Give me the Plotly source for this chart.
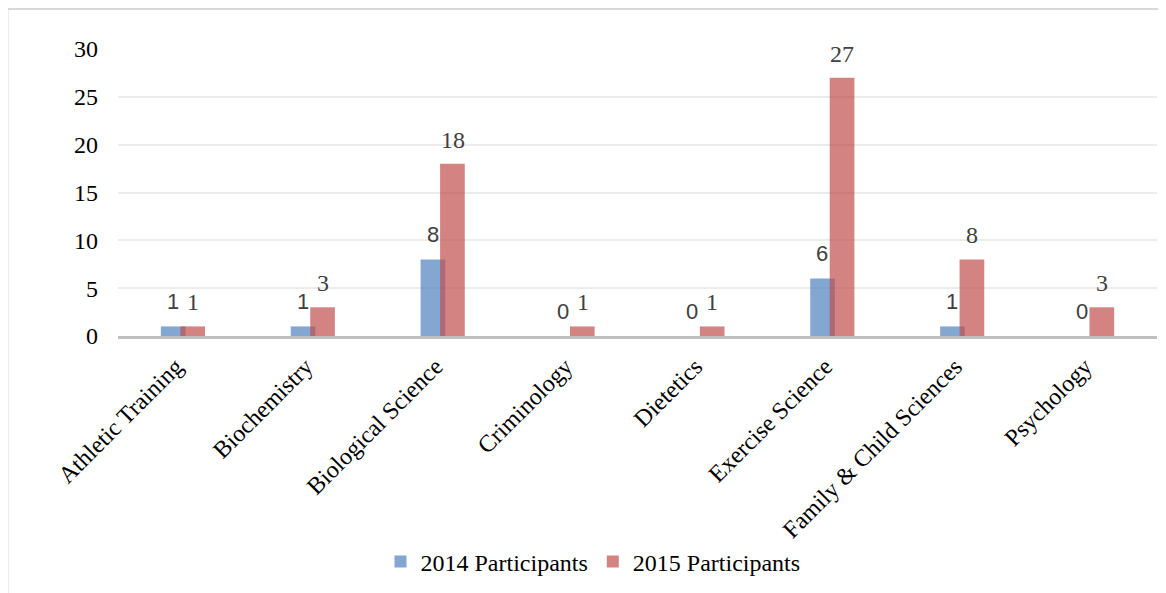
import plotly.graph_objects as go

categories = ["Athletic Training", "Biochemistry", "Biological Science", "Criminology",
              "Dietetics", "Exercise Science", "Family & Child Sciences", "Psychology"]
participants_2014 = [1, 1, 8, 0, 0, 6, 1, 0]
participants_2015 = [1, 3, 18, 1, 1, 27, 8, 3]
y_ticks = [0, 5, 10, 15, 20, 25, 30]

# page body has an 8px margin; figure sized so the plot area lands where the reference has it
OFF = 8
W, H = 1166 - OFF, 593 - OFF
L, R, T, B = 118 - OFF, 17 - OFF, 49 - OFF, 257
pw, ph = W - L - R, H - T - B

def px_x(p):  # screen pixel -> paper x
    return (p - 118) / pw

def px_y(p):  # screen pixel -> paper y
    return (336 - p) / ph

blue = "rgba(79,129,189,0.7)"
red = "rgba(192,80,77,0.7)"
serif = "Liberation Serif"
sans = "Liberation Sans"

fig = go.Figure()
fig.add_trace(go.Bar(x=categories, y=participants_2014, name="2014 Participants",
                     marker=dict(color=blue, line=dict(width=0)),
                     offset=-0.17, width=0.19))
fig.add_trace(go.Bar(x=categories, y=participants_2015, name="2015 Participants",
                     marker=dict(color=red, line=dict(width=0)),
                     offset=-0.02, width=0.19))

annotations = []
for c, v in zip(categories, participants_2014):
    annotations.append(dict(x=c, y=v, xref="x", yref="y", text=str(v), showarrow=False,
                            xshift=-10, yshift=25, yanchor="middle", xanchor="center",
                            font=dict(family=sans, size=22, color="#404040")))
for c, v in zip(categories, participants_2015):
    annotations.append(dict(x=c, y=v, xref="x", yref="y", text=str(v), showarrow=False,
                            xshift=10, yshift=24, yanchor="middle", xanchor="center",
                            font=dict(family=serif, size=24, color="#404040")))

shapes = [
    dict(type="line", xref="paper", yref="paper", x0=px_x(7.5), x1=px_x(7.5),
         y0=px_y(600), y1=px_y(9), line=dict(color="#d9d9d9", width=2)),
    dict(type="line", xref="paper", yref="paper", x0=px_x(7.5), x1=px_x(1170),
         y0=px_y(9), y1=px_y(9), line=dict(color="#d9d9d9", width=2)),
]

fig.update_layout(
    width=W, height=H,
    margin=dict(l=L, r=R, t=T, b=B, autoexpand=False),
    paper_bgcolor="white", plot_bgcolor="white",
    barmode="overlay",
    showlegend=True,
    legend=dict(orientation="h", x=px_x(593), xanchor="center", y=px_y(562), yanchor="middle",
                font=dict(family=serif, size=24, color="black"),
                itemwidth=30, tracegroupgap=0),
    annotations=annotations,
    shapes=shapes,
    xaxis=dict(type="category", tickangle=-45, showline=True, linecolor="#bfbfbf",
               linewidth=3, ticks="", showgrid=False, ticklabelstandoff=4,
               ticklabelshift=-7,
               tickfont=dict(family=serif, size=24, color="black")),
    yaxis=dict(range=[0, 30], tickvals=y_ticks, showgrid=True, gridcolor="#ececec",
               gridwidth=2, zeroline=False, ticks="", ticklabelstandoff=19,
               tickfont=dict(family=serif, size=24, color="black")),
)

fig.write_html("out.html")
